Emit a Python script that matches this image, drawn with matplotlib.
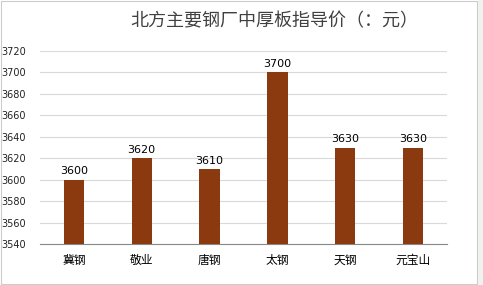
import matplotlib
matplotlib.use("Agg")
import matplotlib.pyplot as plt

plt.rcParams['font.family'] = ['Noto Sans CJK SC', 'DejaVu Sans']

categories = ["冀钢", "敬业", "唐钢", "太钢", "天钢", "元宝山"]
values = [3600, 3620, 3610, 3700, 3630, 3630]
yticks = [3540, 3560, 3580, 3600, 3620, 3640, 3660, 3680, 3700, 3720]
title = "北方主要钢厂中厚板指导价（：元）"

fig = plt.figure(figsize=(4.83, 2.85), dpi=100)
ax = fig.add_axes([40/483, 1-244/285, 407/483, 193/285])

x = range(len(categories))
ax.bar(x, values, width=0.3, color="#8B3A0F", zorder=3)
for i, v in zip(x, values):
    ax.text(i, v + 3, str(v), ha="center", va="bottom", fontsize=8, color="#000000",
            family=["DejaVu Sans"])

ax.set_ylim(3540, 3720)
ax.set_xlim(-0.5, len(categories) - 0.5)
ax.set_yticks(yticks)
ax.set_yticklabels([str(t) for t in yticks], fontsize=7, color="#222222", family=["DejaVu Sans"])
ax.set_xticks(list(x))
ax.set_xticklabels(categories, fontsize=8.5, color="#000000")
ax.tick_params(axis="both", length=0, pad=7)
ax.tick_params(axis="y", pad=10)
ax.grid(axis="y", color="#d9d9d9", linewidth=0.8, zorder=0)
for s in ["top", "right", "left"]:
    ax.spines[s].set_visible(False)
ax.spines["bottom"].set_color("#888888")

fig.text(274/483, 1-21/285, title, ha="center", va="center", fontsize=13, color="#404040")

# border
fig.patches.append(plt.Rectangle((0.002, 0.003), 0.985, 0.994, transform=fig.transFigure,
                                 fill=False, edgecolor="#cccccc", linewidth=0.8))
fig.patches.append(plt.Rectangle((478/483, 0), 5/483, 1, transform=fig.transFigure,
                                 facecolor="#eef3ee", edgecolor="none"))

fig.savefig("out.png", dpi=100)
